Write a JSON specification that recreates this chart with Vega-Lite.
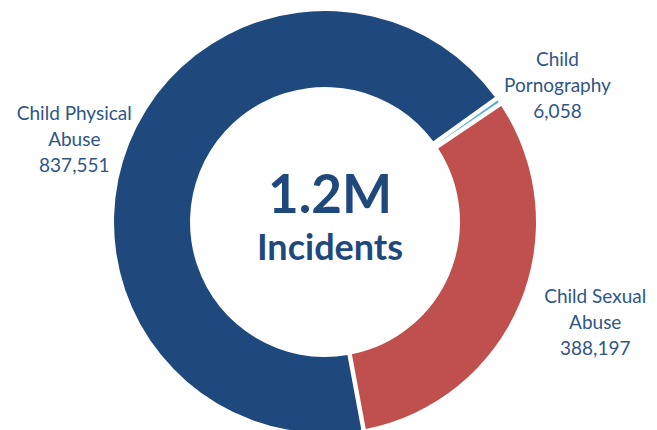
{
  "$schema": "https://vega.github.io/schema/vega-lite/v6.json",
  "width": 650,
  "height": 444,
  "autosize": "none",
  "padding": 0,
  "background": "white",
  "config": {"view": {"stroke": null}},
  "data": {
    "values": [
      {"category": "Child Physical Abuse", "incidents": 837551, "ord": 1, "label": "Child Physical\nAbuse\n837,551"},
      {"category": "Child Pornography", "incidents": 6058, "ord": 2, "label": "Child\nPornography\n6,058"},
      {"category": "Child Sexual Abuse", "incidents": 388197, "ord": 3, "label": "Child Sexual\nAbuse\n388,197"}
    ]
  },
  "encoding": {
    "theta": {"field": "incidents", "type": "quantitative", "stack": true, "scale": {"range": [2.958, 9.241]}},
    "order": {"field": "ord", "type": "quantitative"}
  },
  "layer": [
    {
      "mark": {"type": "arc", "outerRadius": 211, "innerRadius": 135, "padAngle": 0.018},
      "encoding": {
        "color": {
          "field": "category",
          "type": "nominal",
          "legend": null,
          "scale": {"domain": ["Child Physical Abuse", "Child Pornography", "Child Sexual Abuse"], "range": ["#1F497D", "#4BACC6", "#C0504D"]}
        }
      }
    },
    {
      "mark": {"type": "text", "radius": 264, "thetaOffset": -0.063, "dy": -25, "font": "Lato", "fontSize": 19, "lineBreak": "\n", "lineHeight": 26, "align": "center", "baseline": "middle", "color": "#2F5686"},
      "encoding": {"text": {"condition": {"test": "datum.category === 'Child Physical Abuse'", "field": "label"}, "value": ""}}
    },
    {
      "mark": {"type": "text", "radius": 270, "thetaOffset": 0.075, "dy": -25, "font": "Lato", "fontSize": 19, "lineBreak": "\n", "lineHeight": 26, "align": "center", "baseline": "middle", "color": "#2F5686"},
      "encoding": {"text": {"condition": {"test": "datum.category === 'Child Pornography'", "field": "label"}, "value": ""}}
    },
    {
      "mark": {"type": "text", "radius": 288, "thetaOffset": -0.044, "dy": -25, "font": "Lato", "fontSize": 19, "lineBreak": "\n", "lineHeight": 26, "align": "center", "baseline": "middle", "color": "#2F5686"},
      "encoding": {"text": {"condition": {"test": "datum.category === 'Child Sexual Abuse'", "field": "label"}, "value": ""}}
    },
    {
      "data": {"values": [{"t": "1.2M"}]},
      "mark": {"type": "text", "font": "Lato", "fontWeight": "bold", "fontSize": 53, "color": "#1F497D", "align": "center", "baseline": "alphabetic", "dx": 5, "dy": -9},
      "encoding": {"text": {"field": "t", "type": "nominal"}, "theta": null, "order": null}
    },
    {
      "data": {"values": [{"t": "Incidents"}]},
      "mark": {"type": "text", "font": "Lato", "fontWeight": "bold", "fontSize": 36, "color": "#1F497D", "align": "center", "baseline": "alphabetic", "dx": 5, "dy": 38},
      "encoding": {"text": {"field": "t", "type": "nominal"}, "theta": null, "order": null}
    }
  ]
}
